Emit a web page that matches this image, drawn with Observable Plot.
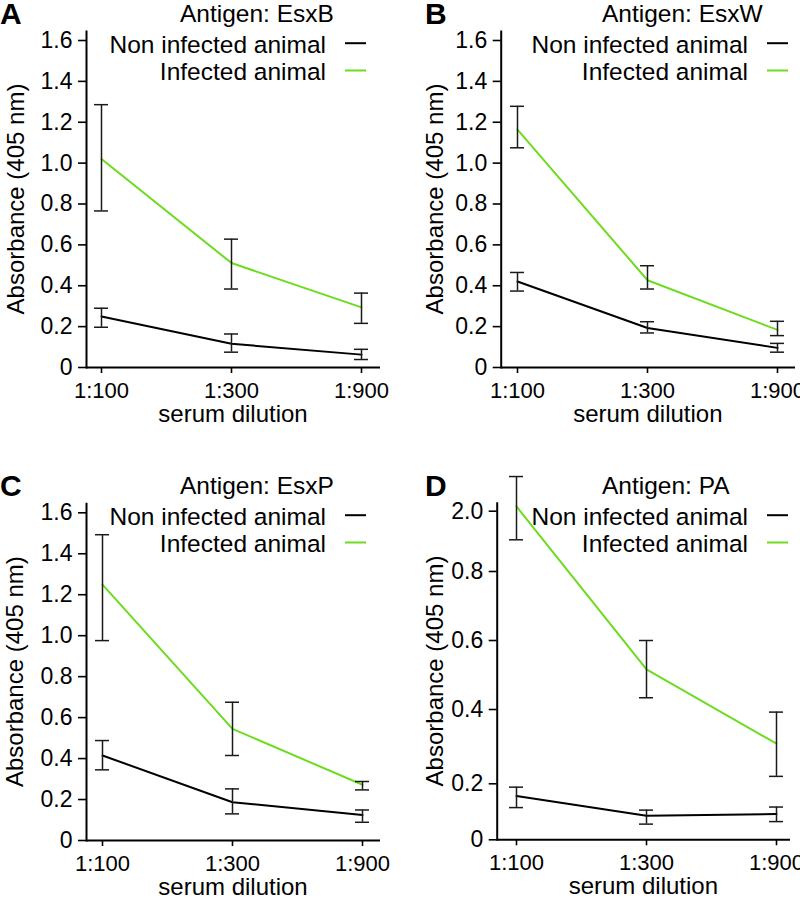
<!DOCTYPE html>
<html>
<head>
<meta charset="utf-8">
<script src="https://cdn.jsdelivr.net/npm/d3@7"></script>
<script src="https://cdn.jsdelivr.net/npm/@observablehq/plot@0.6"></script>
<style>
  html, body { margin: 0; padding: 0; background: #fff; overflow: hidden; width: 800px; height: 899px; }
  #wrap { position: relative; width: 800px; height: 899px; overflow: hidden; }
  .panel { position: absolute; }
  .panel svg { overflow: visible; display: block; }
</style>
</head>
<body>
<div id="wrap"></div>
<script>
// ---------- data ----------
const dilutions = ["1:100", "1:300", "1:900"];
const seriesNames = ["Non infected animal", "Infected animal"];
const panelLetters = ["A", "B", "C", "D"];
const antigenTitles = ["Antigen: EsxB", "Antigen: EsxW", "Antigen: EsxP", "Antigen: PA"];
const xAxisTitle = "serum dilution";
const yAxisTitle = "Absorbance (405 nm)";
const yTicksStd = [0, 0.2, 0.4, 0.6, 0.8, 1.0, 1.2, 1.4, 1.6];
const yTicksPA = [0, 0.2, 0.4, 0.6, 0.8, 2.0];

// Panel A: EsxB
const esxB_nonMean = [0.250, 0.116, 0.063];
const esxB_nonLow  = [0.197, 0.075, 0.039];
const esxB_nonHigh = [0.290, 0.164, 0.089];
const esxB_infMean = [1.020, 0.511, 0.294];
const esxB_infLow  = [0.766, 0.384, 0.216];
const esxB_infHigh = [1.286, 0.628, 0.364];
// Panel B: EsxW
const esxW_nonMean = [0.421, 0.193, 0.096];
const esxW_nonLow  = [0.374, 0.169, 0.075];
const esxW_nonHigh = [0.465, 0.224, 0.118];
const esxW_infMean = [1.164, 0.427, 0.184];
const esxW_infLow  = [1.075, 0.384, 0.156];
const esxW_infHigh = [1.278, 0.498, 0.226];
// Panel C: EsxP
const esxP_nonMean = [0.415, 0.187, 0.125];
const esxP_nonLow  = [0.345, 0.130, 0.089];
const esxP_nonHigh = [0.488, 0.252, 0.149];
const esxP_infMean = [1.249, 0.545, 0.272];
const esxP_infLow  = [0.976, 0.415, 0.247];
const esxP_infHigh = [1.493, 0.675, 0.288];
// Panel D: PA (values in the units of that panel's irregular axis)
const pa_nonMean = [0.156, 0.086, 0.092];
const pa_nonLow  = [0.115, 0.056, 0.065];
const pa_nonHigh = [0.188, 0.106, 0.117];
const pa_infMean = [2.094, 0.516, 0.308];
const pa_infLow  = [1.431, 0.434, 0.220];
const pa_infHigh = [2.690, 0.600, 0.393];

// ---------- layout / style ----------
const COLORS = ["#000000", "#6cdc1e"];
const FONT = "'Liberation Sans', Arial, Helvetica, sans-serif";
// panel D's irregular axis: where each tick sits, as a fraction of the axis height
const paTickFrac = [0, 0.1664, 0.3871, 0.5921, 0.7971, 0.9762];
const paWarp = d3.scaleLinear().domain(yTicksPA).range(paTickFrac);

const panels = [
  {left: 0,   top: 0,   w: 400, h: 440, ml: 86,   mr: 20, mt: 31,   mb: 73,   insL: 14.7, insR: 19,   yTitleX: 24, letterX: 0,
   ticks: yTicksStd, series: [[esxB_nonMean, esxB_nonLow, esxB_nonHigh], [esxB_infMean, esxB_infLow, esxB_infHigh]]},
  {left: 422, top: 0,   w: 378, h: 440, ml: 78.7, mr: 5,  mt: 31,   mb: 73,   insL: 16,   insR: 18,   yTitleX: 21, letterX: 3,
   ticks: yTicksStd, series: [[esxW_nonMean, esxW_nonLow, esxW_nonHigh], [esxW_infMean, esxW_infLow, esxW_infHigh]]},
  {left: 0,   top: 472, w: 400, h: 427, ml: 86,   mr: 20, mt: 31.3, mb: 59,   insL: 15,   insR: 18,   yTitleX: 23, letterX: 0,
   ticks: yTicksStd, series: [[esxP_nonMean, esxP_nonLow, esxP_nonHigh], [esxP_infMean, esxP_infLow, esxP_infHigh]]},
  {left: 422, top: 472, w: 378, h: 427, ml: 74.7, mr: 10, mt: 30.7, mb: 59.7, insL: 19.3, insR: 13.3, yTitleX: 21, letterX: 3,
   ticks: yTicksPA, series: [[pa_nonMean, pa_nonLow, pa_nonHigh], [pa_infMean, pa_infLow, pa_infHigh]]}
];

const fmt = d => Math.abs(d) < 1e-9 ? "0" : d.toFixed(1);

function makePanel(p, k) {
  const rows = [];
  p.series.forEach(([mean, low, high], si) =>
    dilutions.forEach((d, i) => rows.push({dilution: d, series: seriesNames[si], mean: mean[i], low: low[i], high: high[i]})));
  const bottom = p.h - p.mb, inner = bottom - p.mt;
  const warped = p.ticks === yTicksPA;
  const yScale = warped
    ? {transform: paWarp, domain: [0, 1]}
    : {domain: [0, 1.6 * inner / (inner - 9)]};
  const yAxis = warped
    ? Plot.axisY({ticks: yTicksPA.map(paWarp), tickFormat: d => fmt(paWarp.invert(d)), tickSize: 8, tickPadding: 6, fontSize: 23, strokeWidth: 1.6, label: null})
    : Plot.axisY({ticks: p.ticks, tickFormat: fmt, tickSize: 8, tickPadding: 6, fontSize: 23, strokeWidth: 1.6, label: null});
  const errStyle = {stroke: "#1a1a1a", strokeWidth: 1.5};
  const svg = Plot.plot({
    width: p.w, height: p.h,
    marginLeft: p.ml, marginRight: p.mr, marginTop: p.mt, marginBottom: p.mb,
    style: {fontFamily: FONT, fontSize: "22px", color: "#000", background: "#fff", overflow: "visible"},
    x: {type: "point", domain: dilutions, padding: 0, insetLeft: p.insL, insetRight: p.insR},
    y: yScale,
    color: {domain: seriesNames, range: COLORS},
    marks: [
      Plot.frame({anchor: "left", stroke: "#000", strokeWidth: 2}),
      Plot.ruleY([0], {stroke: "#000", strokeWidth: 2}),
      yAxis,
      Plot.axisX({tickSize: 6, tickPadding: 9, fontSize: 22, strokeWidth: 1.6, label: null}),
      Plot.line(rows, {x: "dilution", y: "mean", z: "series", stroke: "series", strokeWidth: 2}),
      Plot.ruleX(rows, {x: "dilution", y1: "low", y2: "high", ...errStyle}),
      Plot.ruleY(rows, {x1: "dilution", x2: "dilution", y: "low", insetLeft: -7, insetRight: -7, ...errStyle}),
      Plot.ruleY(rows, {x1: "dilution", x2: "dilution", y: "high", insetLeft: -7, insetRight: -7, ...errStyle})
    ]
  });

  const g = d3.select(svg).append("g").attr("fill", "#000").attr("font-family", FONT).attr("text-anchor", "start");
  // panel letter
  g.append("text").attr("x", p.letterX).attr("y", 24).attr("text-anchor", "start")
    .attr("font-size", 30).attr("font-weight", "bold").text(panelLetters[k]);
  // antigen title
  g.append("text").attr("x", 180).attr("y", 22).attr("text-anchor", "start").attr("font-size", 24.5).text(antigenTitles[k]);
  // legend
  seriesNames.forEach((name, i) => {
    const base = 52.7 + i * 27.3;
    g.append("text").attr("x", 326).attr("y", base).attr("text-anchor", "end").attr("font-size", 24.5).text(name);
    g.append("line").attr("x1", 345).attr("x2", 366).attr("y1", base - 9.5).attr("y2", base - 9.5)
      .attr("stroke", COLORS[i]).attr("stroke-width", 2);
  });
  // axis titles
  g.append("text").attr("x", (p.ml + p.w - p.mr) / 2).attr("y", bottom + 54.5)
    .attr("text-anchor", "middle").attr("font-size", 24).text(xAxisTitle);
  g.append("text").attr("transform", `translate(${p.yTitleX},${(p.mt + bottom) / 2}) rotate(-90)`)
    .attr("text-anchor", "middle").attr("font-size", 24).text(yAxisTitle);

  const div = document.createElement("div");
  div.className = "panel";
  div.style.left = p.left + "px";
  div.style.top = p.top + "px";
  div.appendChild(svg);
  document.getElementById("wrap").appendChild(div);
}

panels.forEach(makePanel);
</script>
</body>
</html>
